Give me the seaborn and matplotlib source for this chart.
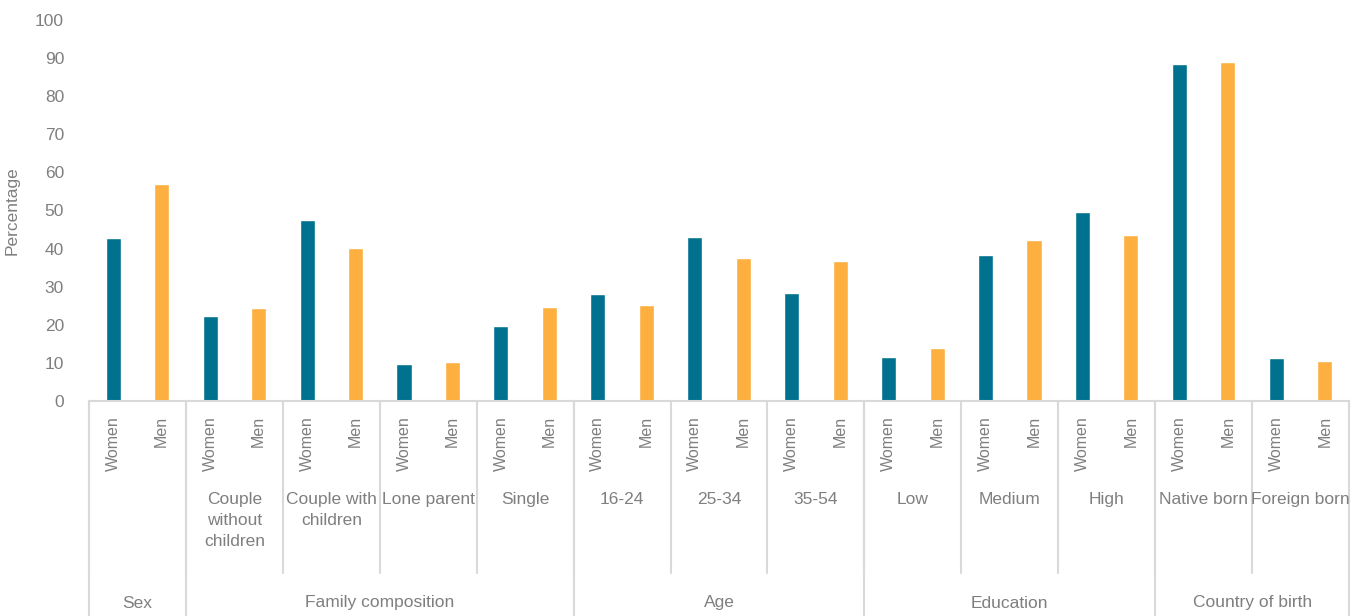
import pandas as pd
import seaborn as sns
import matplotlib.pyplot as plt
import matplotlib.transforms as mtransforms

# chart data
groups = ["Sex", "Family composition", "Age", "Education", "Country of birth"]
subgroups = ["", "Couple\nwithout\nchildren", "Couple with\nchildren", "Lone parent", "Single",
             "16-24", "25-34", "35-54", "Low", "Medium", "High", "Native born", "Foreign born"]
subgroup_parent = ["Sex", "Family composition", "Family composition", "Family composition",
                   "Family composition", "Age", "Age", "Age", "Education", "Education",
                   "Education", "Country of birth", "Country of birth"]
sexes = ["Women", "Men"]
women = [42.7, 22.3, 47.5, 9.8, 19.7, 28.1, 43.0, 28.3, 11.5, 38.3, 49.6, 88.5, 11.3]
men = [57.0, 24.4, 40.2, 10.3, 24.7, 25.2, 37.5, 36.7, 13.9, 42.3, 43.6, 89.0, 10.5]

rows = []
for i, sub in enumerate(subgroups):
    rows.append({"key": f"{i}-Women", "sex": "Women", "value": women[i]})
    rows.append({"key": f"{i}-Men", "sex": "Men", "value": men[i]})
df = pd.DataFrame(rows)

sns.set_style("white")
plt.rcParams['font.family'] = ['Liberation Sans', 'DejaVu Sans']
grey = "#7f7f7f"
line_c = "#d9d9d9"

fig = plt.figure(figsize=(13.64, 6.16), dpi=100)
ax = fig.add_axes([89 / 1364, 1 - 401 / 616, 1260 / 1364, 381 / 616])

sns.barplot(data=df, x="key", y="value", hue="sex", dodge=False, width=0.31,
            palette={"Women": "#00718f", "Men": "#fdb040"}, saturation=1,
            legend=False, ax=ax)

ax.set_ylim(0, 100)
ax.set_xlim(-0.5, len(df) - 0.5)
ax.set_yticks(range(0, 101, 10))
ax.set_xticks(range(len(df)))
ax.set_xticklabels(df["sex"], rotation=90)
ax.tick_params(axis="x", length=0, pad=11, labelsize=11.5, labelcolor=grey)
ax.tick_params(axis="y", length=0, pad=18, labelsize=12.5, labelcolor=grey)
ax.set_xlabel("")
ax.set_ylabel("Percentage", color=grey, fontsize=12.5)
ax.yaxis.set_label_coords(-(89 - 20) / 1260, 0.5)
for s in ["top", "right", "left"]:
    ax.spines[s].set_visible(False)
ax.spines["bottom"].set_color(line_c)
ax.spines["bottom"].set_linewidth(1.5)

trans = mtransforms.blended_transform_factory(ax.transData, ax.transAxes)
sub_bottom = -(573 - 401) / 381
sub_label_y = -(492 - 401) / 381
grp_label_y = -(603 - 401) / 381

# subgroup boundaries and labels
for i, sub in enumerate(subgroups):
    left = 2 * i - 0.5
    ax.plot([left, left], [0, sub_bottom], transform=trans, color=line_c, lw=1.5, clip_on=False)
    ax.text(2 * i + 0.5, sub_label_y, sub, transform=trans, ha="center", va="top",
            color=grey, fontsize=12.5, linespacing=1.5)

# top-level groups
pos = 0
edges = [-0.5]
for g in groups:
    n = subgroup_parent.count(g)
    start = pos * 2 - 0.5
    end = (pos + n) * 2 - 0.5
    ax.text((start + end) / 2, grp_label_y, g, transform=trans, ha="center", va="center",
            color=grey, fontsize=12.5)
    edges.append(end)
    pos += n
for e in edges:
    ax.plot([e, e], [0, -0.7], transform=trans, color=line_c, lw=1.5, clip_on=False)

fig.savefig("out.png", dpi=100)
